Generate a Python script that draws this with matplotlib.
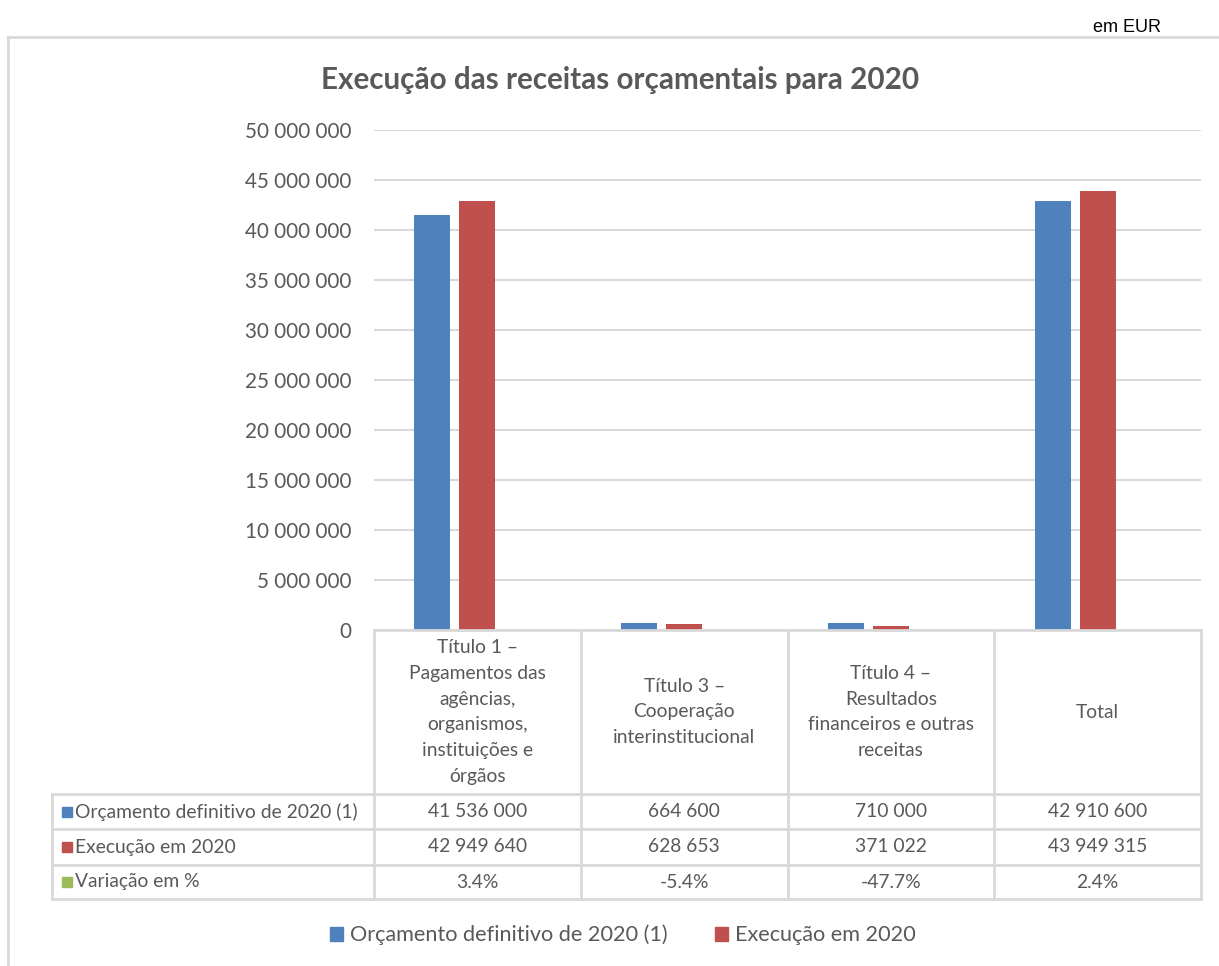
import matplotlib.pyplot as plt
from matplotlib.patches import Patch

# Data
categories = [
    "Título 1 –\nPagamentos das\nagências,\norganismos,\ninstituições e\nórgãos",
    "Título 3 –\nCooperação\ninterinstitucional",
    "Título 4 –\nResultados\nfinanceiros e outras\nreceitas",
    "Total",
]
series_names = ["Orçamento definitivo de 2020 (1)", "Execução em 2020", "Variação em %"]
orcamento = [41536000, 664600, 710000, 42910600]
execucao = [42949640, 628653, 371022, 43949315]
variacao = [0.034, -0.054, -0.477, 0.024]

colors = ["#4F81BD", "#C0504D", "#9BBB59"]
grey = "#595959"
line_col = "#D9D9D9"

plt.rcParams['font.family'] = ['Lato', 'DejaVu Sans']

W, H = 1219, 966
fig = plt.figure(figsize=(W / 100, H / 100), dpi=100)

# axes position in pixels: x 374..1201, y 130..630
x0, x1, ytop, ybot = 374, 1201, 130, 630
ax = fig.add_axes([x0 / W, (H - ybot) / H, (x1 - x0) / W, (ybot - ytop) / H])

n = len(categories)
xs = list(range(n))
bw = 0.174
step = 0.2176
for k, vals in enumerate([orcamento, execucao, variacao]):
    ax.bar([x + (k - 1) * step for x in xs], vals, width=bw, color=colors[k], linewidth=0)

ax.set_xlim(-0.5, n - 0.5)
ax.set_ylim(0, 50000000)
ax.set_yticks(range(0, 50000001, 5000000))
ax.set_yticklabels([f"{v:,}".replace(",", " ") for v in range(0, 50000001, 5000000)],
                   fontsize=14.9, color=grey)
ax.tick_params(axis='y', length=0, pad=16)
ax.set_xticks([])
ax.grid(axis='y', color=line_col, linewidth=1.5)
ax.set_axisbelow(True)
for s in ax.spines.values():
    s.set_visible(False)

# table below the axes (x in data units, y as axes fraction)
tr = ax.get_xaxis_transform()
ph = ybot - ytop
colw = (x1 - x0) / n


def fy(py):
    return (ybot - py) / ph


left_x = -0.5 + (52 - x0) / colw
lw = 2
ax.plot([-0.5, n - 0.5], [0, 0], transform=tr, color=line_col, lw=lw, clip_on=False)
for py in [794, 829, 865, 899]:
    ax.plot([left_x, n - 0.5], [fy(py)] * 2, transform=tr, color=line_col, lw=lw, clip_on=False)
for bx in [i - 0.5 for i in range(n + 1)]:
    ax.plot([bx, bx], [0, fy(899)], transform=tr, color=line_col, lw=lw, clip_on=False)
ax.plot([left_x, left_x], [fy(794), fy(899)], transform=tr, color=line_col, lw=lw, clip_on=False)

tfs = 13.9
for i, c in enumerate(categories):
    ax.text(i, fy(712), c, transform=tr, ha='center', va='center', fontsize=tfs,
            color=grey, linespacing=1.63)

rows = [
    [f"{v:,}".replace(",", " ") for v in orcamento],
    [f"{v:,}".replace(",", " ") for v in execucao],
    [f"{v * 100:.1f}%" for v in variacao],
]
row_centers = [811.5, 847, 882]
mark_x = -0.5 + (67 - x0) / colw
lab_x = -0.5 + (75 - x0) / colw
for r, (vals, yc) in enumerate(zip(rows, row_centers)):
    ax.plot([mark_x], [fy(yc)], marker='s', markersize=7.5, color=colors[r],
            transform=tr, clip_on=False, linestyle='none')
    ax.text(lab_x, fy(yc), series_names[r], transform=tr, ha='left', va='center',
            fontsize=tfs, color=grey)
    for i, v in enumerate(vals):
        ax.text(i, fy(yc), v, transform=tr, ha='center', va='center', fontsize=tfs, color=grey)

# title, unit, frame
fig.text(620 / W, 1 - 80 / H, "Execução das receitas orçamentais para 2020", ha='center',
         va='center', fontsize=21.3, fontweight='bold', color=grey)
fig.text(1161 / W, 1 - 32 / H, "em EUR", ha='right', va='baseline', fontsize=13,
         color='black', family='Liberation Sans')
fig.add_artist(plt.Line2D([8 / W, 1], [1 - 37 / H] * 2, color=line_col, lw=2))
fig.add_artist(plt.Line2D([8 / W, 8 / W], [0, 1 - 37 / H], color=line_col, lw=2))

handles = [Patch(color=colors[0]), Patch(color=colors[1])]
fig.legend(handles, series_names[:2], loc='center', bbox_to_anchor=(623 / W, 1 - 935 / H),
           ncol=2, frameon=False, fontsize=15.6, labelcolor=grey, handlelength=0.6,
           handleheight=0.6, handletextpad=0.3, columnspacing=2.2)

fig.savefig("out.png", dpi=100)
